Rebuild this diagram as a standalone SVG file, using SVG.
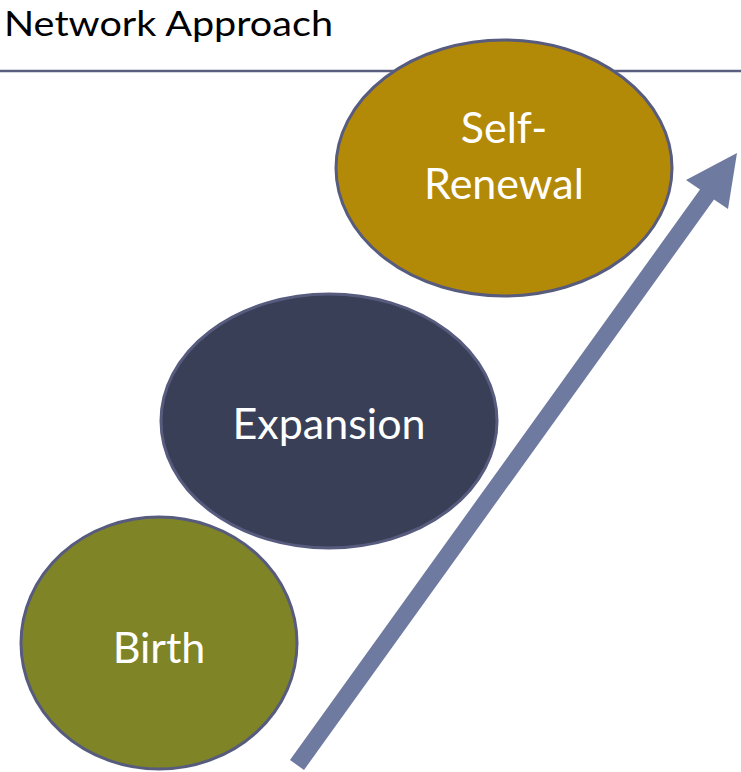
<svg xmlns="http://www.w3.org/2000/svg" width="741" height="772" viewBox="0 0 741 772">
<style>
.node{stroke:#575c7e;stroke-width:3}
.lbl{font-family:Lato,"Open Sans","Liberation Sans",sans-serif;fill:#ffffff;font-size:43px;text-anchor:middle}
.title{font-family:Lato,"Open Sans","Liberation Sans",sans-serif;fill:#000000;font-size:34px}
</style>
<rect width="741" height="772" fill="#ffffff"/>
<text class="title" x="4" y="36" textLength="329" lengthAdjust="spacingAndGlyphs">Network Approach</text>
<line x1="0" y1="71" x2="741" y2="71" stroke="#5a5f80" stroke-width="2.5"/>
<g id="self-renewal">
<ellipse class="node" cx="504" cy="168" rx="168" ry="128" fill="#b38908"/>
<text class="lbl" x="504" y="143">Self-</text>
<text class="lbl" x="504" y="199">Renewal</text>
</g>
<g id="expansion">
<ellipse class="node" cx="329" cy="421" rx="168" ry="127" fill="#3a3f58"/>
<text class="lbl" x="329" y="439">Expansion</text>
</g>
<g id="birth">
<ellipse class="node" cx="159" cy="643" rx="138" ry="126" fill="#7f8427"/>
<text class="lbl" x="159" y="663">Birth</text>
</g>
<g id="connectors">
<polygon points="290,760 700,189.5 686,180 737,153 728,209 714,199.5 304,770" fill="#6f7aa0"/>
</g>
</svg>
